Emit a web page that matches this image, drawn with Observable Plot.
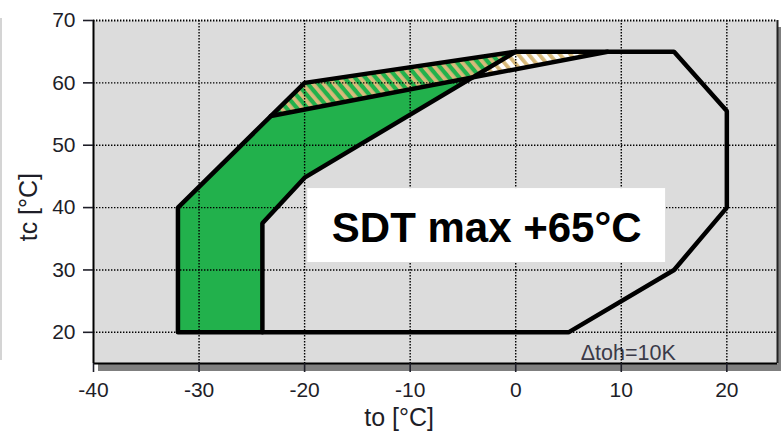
<!DOCTYPE html>
<html>
<head>
<meta charset="utf-8">
<script src="https://cdn.jsdelivr.net/npm/d3@7"></script>
<script src="https://cdn.jsdelivr.net/npm/@observablehq/plot@0.6"></script>
<style>
  html, body { margin: 0; padding: 0; background: #fff; }
  #chart { position: relative; width: 781px; height: 441px; }
</style>
</head>
<body>
<div id="chart"></div>
<script>
// ---- data ----
const xTicks = [-40, -30, -20, -10, 0, 10, 20];
const yTicks = [20, 30, 40, 50, 60, 70];
const xDomain = [-40, 24.8];
const yDomain = [15, 70];

// outer operating envelope (to, tc)
const envelope = [[-32, 20], [-32, 40], [-20, 60], [0, 65], [15, 65], [20, 55.5], [20, 40], [15, 30], [5, 20], [-32, 20]];
// inner boundary of the green area
const innerLine = [[-24, 20], [-24, 37.5], [-20, 44.8], [0, 65]];
// green area
const greenArea = [[-32, 20], [-32, 40], [-20, 60], [0, 65], [-20, 44.8], [-24, 37.5], [-24, 20]];
// hatched band
const bandArea = [[-23.2, 54.7], [-20, 60], [0, 65], [8.7, 65], [-23.2, 54.7]];
const bandLower = [[-23.2, 54.7], [8.7, 65]];

const boxLabel = [{x1: -19.7, x2: 14.2, y1: 31.2, y2: 43.05, x: -2.75, y: 36.7, text: "SDT max +65°C"}];
const noteLabel = [{x: 10.66, y: 16.74, text: "Δtoh=10K"}];
const xLabel = [{x: -11.04, text: "to [°C]"}];
const yLabel = [{y: 34.6, text: "tc [°C]"}];

const FONT = "Liberation Sans, Arial, Helvetica, sans-serif";
const GREEN = "#22b14c";
const dotted = {stroke: "#000", strokeWidth: 1.4, strokeDasharray: "1.4,1.6"};

const svg = Plot.plot({
  width: 781,
  height: 441,
  marginLeft: 93,
  marginRight: 4,
  marginTop: 20,
  marginBottom: 78,
  style: {fontFamily: FONT, background: "transparent", color: "#1e1e28", overflow: "visible"},
  x: {domain: xDomain},
  y: {domain: yDomain},
  marks: [
    Plot.frame({fill: "#dcdcdc", stroke: "none"}),
    Plot.line(bandArea, {x: d => d[0], y: d => d[1], fill: "#fff", stroke: "none"}),
    Plot.line(greenArea, {x: d => d[0], y: d => d[1], fill: GREEN, stroke: "none"}),
    Plot.line(bandArea, {x: d => d[0], y: d => d[1], fill: "url(#hatch)", stroke: "none"}),
    Plot.text(noteLabel, {x: "x", y: "y", text: "text", fontSize: 21.5, fill: "#3a3a48", fontFamily: FONT}),
    Plot.ruleX(xTicks.slice(1), {...dotted}),
    Plot.ruleY(yTicks.slice(0, -1), {...dotted}),
    Plot.ruleY(yTicks.slice(-1), {...dotted, strokeWidth: 2}),
    Plot.line(envelope, {x: d => d[0], y: d => d[1], stroke: "#000", strokeWidth: 4.5, strokeLinejoin: "miter"}),
    Plot.line(innerLine, {x: d => d[0], y: d => d[1], stroke: "#000", strokeWidth: 4.5, strokeLinejoin: "miter"}),
    Plot.line(bandLower, {x: d => d[0], y: d => d[1], stroke: "#000", strokeWidth: 4.5}),
    Plot.rect(boxLabel, {x1: "x1", x2: "x2", y1: "y1", y2: "y2", fill: "#fff"}),
    Plot.text(boxLabel, {x: "x", y: "y", text: "text", fontSize: 42, fontWeight: "bold", fill: "#000", fontFamily: FONT}),
    Plot.ruleX([xDomain[0]], {stroke: "#000", strokeWidth: 2}),
    Plot.ruleX([xDomain[1]], {stroke: "#222", strokeWidth: 2}),
    Plot.ruleY([yDomain[0]], {stroke: "#000", strokeWidth: 2}),
    Plot.axisX({ticks: xTicks, tickSize: 9, tickPadding: 10, fontSize: 21, label: null, tickFormat: d => String(d), strokeWidth: 1.6}),
    Plot.axisY({ticks: yTicks, tickSize: 10, tickPadding: 8, fontSize: 21, label: null, tickFormat: d => String(d), strokeWidth: 1.6}),
    Plot.text(xLabel, {x: "x", frameAnchor: "bottom", dy: 62, text: "text", fontSize: 25, fontFamily: FONT}),
    Plot.text(yLabel, {y: "y", frameAnchor: "left", dx: -65, rotate: -90, text: "text", fontSize: 25, fontFamily: FONT})
  ]
});

// pattern + decoration (shadow, side line)
const s = d3.select(svg);
s.insert("defs", ":first-child").html(
  '<pattern id="hatch" patternUnits="userSpaceOnUse" width="8" height="8" patternTransform="rotate(-40)">' +
  '<rect x="0" y="0" width="3.8" height="8" fill="#d8b97a"/></pattern>'
);
const deco = s.insert("g", "defs + *");
deco.append("rect").attr("x", 98).attr("y", 363).attr("width", 683).attr("height", 8).attr("fill", "#7f7f7f");
deco.append("rect").attr("x", 777).attr("y", 27).attr("width", 4).attr("height", 344).attr("fill", "#7f7f7f");
deco.append("rect").attr("x", 0).attr("y", 18).attr("width", 2).attr("height", 342).attr("fill", "#d4d4d4");

document.getElementById("chart").appendChild(svg);
</script>
</body>
</html>
